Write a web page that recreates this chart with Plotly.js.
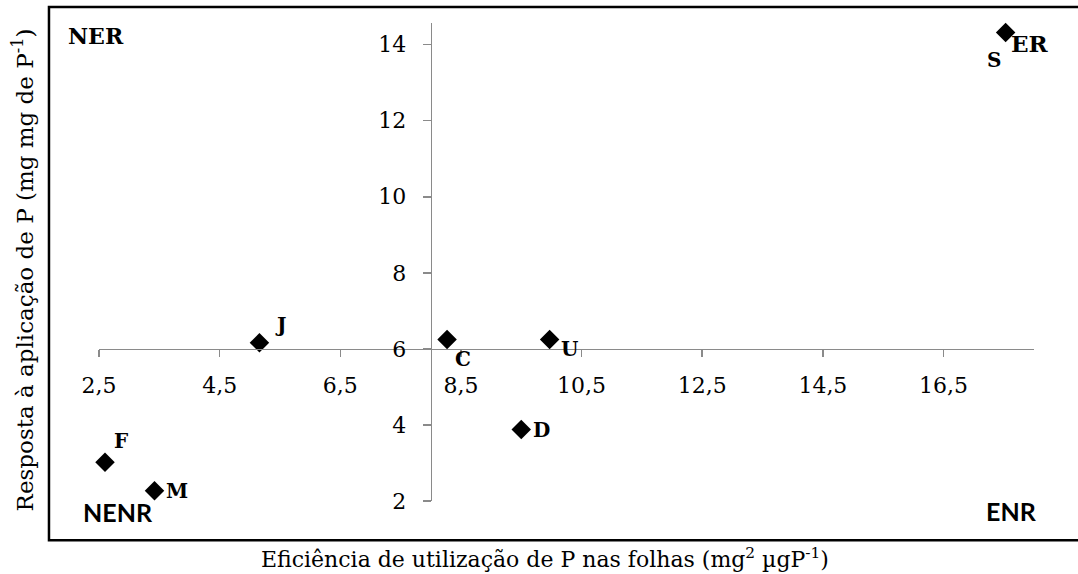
<!DOCTYPE html>
<html>
<head>
<meta charset="utf-8">
<script src="https://cdn.plot.ly/plotly-3.0.1.min.js"></script>
<style>
  html, body { margin: 0; padding: 0; background: #fff; }
  #chart { width: 1078px; height: 574px; }
</style>
</head>
<body>
<div id="chart"></div>
<script>
// Genotypes: efficiency of P use in leaves vs. response to P application
const genotypes = ["J", "C", "U", "D", "F", "M", "S"];
const efficiency = [5.16, 8.27, 9.97, 9.50, 2.60, 3.42, 17.53];
const response   = [6.16, 6.245, 6.245, 3.88, 3.02, 2.27, 14.32];

// Label offsets (px) for each genotype letter, relative to its marker
const labelDx = [21, 16, 20, 20, 16, 22, -12];
const labelDy = [-18, 19, 9, 0, -21, 0, 27];

// Quadrant names
const quadrants = ["NER", "ER", "NENR", "ENR"];

const xTitle = "Eficiência de utilização de P nas folhas (mg<sup>2</sup> µgP<sup>-1</sup>)";
const yTitle = "Resposta à aplicação de P (mg mg de P<sup>-1</sup>)";

const serif = "'DejaVu Serif', serif";
const sans = "Lato, 'Liberation Sans', sans-serif";

const trace = {
  type: "scatter",
  mode: "markers",
  x: efficiency,
  y: response,
  marker: { symbol: "diamond", size: 15, color: "#000000", line: { width: 0 } },
  hoverinfo: "skip",
  cliponaxis: false
};

const pointLabels = genotypes.map((g, i) => ({
  x: efficiency[i], y: response[i], xref: "x", yref: "y",
  text: "<b>" + g + "</b>", showarrow: false,
  xshift: labelDx[i], yshift: -labelDy[i],
  font: { family: serif, size: 20, color: "#000" }
}));

const quadLabels = [
  { x: -0.0027, y: 0.9728, text: "<b>" + quadrants[0] + "</b>", font: { family: serif, size: 22, color: "#000" } },
  { x: 0.9955, y: 0.9566, text: "<b>" + quadrants[1] + "</b>", font: { family: serif, size: 23, color: "#000" } },
  { x: 0.0203, y: -0.023, text: "<b>" + quadrants[2] + "</b>", font: { family: sans, size: 25, color: "#000" } },
  { x: 0.9762, y: -0.021, text: "<b>" + quadrants[3] + "</b>", font: { family: sans, size: 25, color: "#000" } }
].map(a => Object.assign({ xref: "paper", yref: "paper", showarrow: false, xanchor: "center", yanchor: "middle" }, a));

const titles = [
  { x: 0.477, y: -0.12, xref: "paper", yref: "paper", text: xTitle, showarrow: false,
    xanchor: "center", yanchor: "middle", font: { family: serif, size: 22, color: "#000" } },
  { x: -0.081, y: 0.483, xref: "paper", yref: "paper", text: yTitle, showarrow: false, textangle: -90,
    xanchor: "center", yanchor: "middle", font: { family: serif, size: 23, color: "#000" } }
];

const axisColor = "#8a8a8a";

const layout = {
  width: 1078, height: 574,
  margin: { l: 99, r: 44.3, t: 23.3, b: 73.3, pad: 0 },
  paper_bgcolor: "#ffffff", plot_bgcolor: "#ffffff",
  showlegend: false,
  font: { family: serif },
  xaxis: {
    range: [2.5, 18], tick0: 2.5, dtick: 2, tickformat: ".1f",
    anchor: "free", position: (6 - 2) / (14.57 - 2),
    showgrid: false, zeroline: false,
    showline: true, linecolor: axisColor, linewidth: 1.5,
    ticks: "outside", ticklen: 7, tickwidth: 1.5, tickcolor: axisColor,
    ticklabelstandoff: 9,
    tickfont: { family: serif, size: 22, color: "#000" }
  },
  yaxis: {
    range: [2, 14.57], tick0: 2, dtick: 2,
    anchor: "free", position: (8 - 2.5) / (18 - 2.5),
    showgrid: false, zeroline: false,
    showline: true, linecolor: axisColor, linewidth: 1.5,
    ticks: "outside", ticklen: 8, tickwidth: 1.5, tickcolor: axisColor,
    ticklabelstandoff: 12,
    tickfont: { family: serif, size: 22, color: "#000" }
  },
  separators: ",.",
  shapes: [
    // chart frame
    { type: "rect", xref: "paper", yref: "paper", x0: -0.0535, x1: 1.2, y0: -0.0823, y1: 1.0335,
      line: { color: "#000", width: 2.5 }, fillcolor: "rgba(0,0,0,0)", layer: "below" }
  ],
  annotations: pointLabels.concat(quadLabels, titles)
};

Plotly.newPlot("chart", [trace], layout, { displayModeBar: false, staticPlot: true });
</script>
</body>
</html>
